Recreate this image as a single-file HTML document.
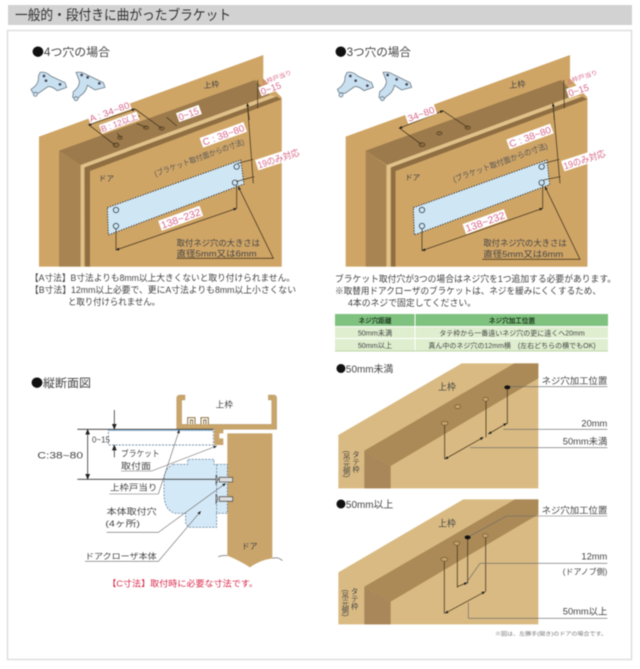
<!DOCTYPE html>
<html lang="ja"><head><meta charset="utf-8"><style>
html,body{margin:0;padding:0;background:#fff;width:640px;height:669px;overflow:hidden}
svg{display:block;filter:blur(.45px)}
text{font-family:"Liberation Sans","Noto Sans CJK JP",sans-serif;fill:#444}
.bl{font-family:"Noto Sans CJK JP",sans-serif;fill:#111}
.p{fill:#d8688a}
.ln{stroke:#4a3a20;stroke-width:2.4;fill:none}
.hb{fill:#8d6c3f;stroke:#4a3a20;stroke-width:2}
.hb2{fill:#c5a36c;stroke:#6b5530;stroke-width:2}
.hp{fill:#cfe6f5;stroke:#3c4a55;stroke-width:2.6}
.br{fill:#c8e0f0;stroke:#6a7a86;stroke-width:2.4}
.g{stroke:#666;stroke-width:1.8;fill:none}
</style></head><body>
<svg width="640" height="669" viewBox="0 0 640 669" xmlns="http://www.w3.org/2000/svg">
<defs>
<marker id="a" viewBox="0 0 10 10" refX="9" refY="5" markerWidth="11" markerHeight="11" markerUnits="userSpaceOnUse" orient="auto-start-reverse"><path d="M0 1L10 5L0 9z" fill="#222"/></marker>
<marker id="b" viewBox="0 0 10 10" refX="9" refY="5" markerWidth="18" markerHeight="18" markerUnits="userSpaceOnUse" orient="auto-start-reverse"><path d="M0 1L10 5L0 9z" fill="#222"/></marker>
</defs>
<rect x="8" y="5" width="624" height="20" fill="#d2d2d2"/>
<text x="15" y="20" font-size="14" textLength="216" lengthAdjust="spacingAndGlyphs" style="fill:#333">一般的・段付きに曲がったブラケット</text>
<rect x="7.5" y="30.5" width="624" height="629" fill="#fff" stroke="#dcdcdc" stroke-width="1.4"/>

<!-- 4 holes -->
<text x="32" y="56" font-size="11.5" textLength="78" lengthAdjust="spacingAndGlyphs"><tspan class="bl">●</tspan>4つ穴の場合</text>
<g transform="translate(20,40) scale(.33333)">
<polygon points="57,290 730,45 730,115 785,172 785,680 57,680" fill="#cfa566"/>
<polygon points="730,115 785,172 785,100 730,100" fill="#fff"/>
<polygon points="117,332 705,120 750,165 182,375" fill="#9c7a4c"/>
<polygon points="117,332 182,375 182,680 117,680" fill="#a88452"/>
<polygon points="182,375 750,165 768,170 192,385 192,680 182,680" fill="#e0c18a"/>
<polygon points="194,382 770,170 785,178 210,393 210,680 195,680" fill="#8f6f42"/>
<polygon points="210,395 785,178 785,680 210,680" fill="#cfa566"/>
<polygon points="262,503 662,360 672,432 265,585" fill="#cfe6f5" stroke="#222" stroke-width="2.6" stroke-dasharray="4 4"/>
<circle class="hp" cx="288" cy="510" r="8"/><circle class="hp" cx="288" cy="558" r="8"/><circle class="hp" cx="650" cy="380" r="8"/><circle class="hp" cx="645" cy="428" r="8"/>
<ellipse class="hb" cx="288" cy="315" rx="9" ry="6"/><ellipse class="hb" cx="300" cy="293" rx="7" ry="5"/><ellipse class="hb" cx="378" cy="263" rx="8" ry="5"/><ellipse class="hb" cx="425" cy="265" rx="8" ry="5"/>
<path class="ln" d="M207 255L285 315M345 207L425 265M292 280L302 292M350 250L378 262M440 232L470 258"/>
<path class="ln" d="M205 255L345 207" marker-start="url(#a)" marker-end="url(#a)"/>
<path class="ln" d="M240 270L360 228"/>
<path class="ln" d="M713 120L713 205M682 190L700 430M652 370L700 358M648 425L703 410M288 566L288 630M650 436L650 505"/>
<path class="ln" d="M682 190L688 240" marker-start="url(#a)"/>
<path class="ln" d="M288 630L650 505" marker-start="url(#a)" marker-end="url(#a)"/>
<path class="ln" d="M470 655L760 655L655 440" marker-end="url(#a)"/>
<path class="br" d="M60 97Q78 94 92 108L135 128L140 142L112 152Q95 138 84 140L55 160L38 158L33 148Q58 132 55 110Z"/>
<path class="br" d="M168 97Q185 94 200 104L250 128L255 142L225 150L202 136Q200 155 180 168L172 178L158 172L160 155Q180 140 178 122Z"/>
<circle cx="46" cy="163" r="6" class="br"/><circle cx="168" cy="176" r="6" class="br"/>
<circle cx="72" cy="108" r="4" fill="#445"/><circle cx="78" cy="122" r="4" fill="#445"/><circle cx="120" cy="133" r="4" fill="#445"/><circle cx="185" cy="105" r="4" fill="#445"/><circle cx="203" cy="112" r="4" fill="#445"/><circle cx="238" cy="130" r="4" fill="#445"/>
<text x="550" y="143" font-size="24" transform="rotate(-5 570 135)">上枠</text>
<text x="236" y="423" font-size="23">ドア</text>
<text x="405" y="410" font-size="23" textLength="285" lengthAdjust="spacingAndGlyphs" transform="rotate(-20 405 405)" style="fill:#555">(ブラケット取付面からの寸法)</text>
<text x="470" y="618" font-size="25" textLength="250" lengthAdjust="spacingAndGlyphs">取付ネジ穴の大きさは</text>
<text x="470" y="649" font-size="25" textLength="240" lengthAdjust="spacingAndGlyphs">直径5mm又は6mm</text>
<text class="p" x="724" y="136" font-size="18" textLength="98" lengthAdjust="spacingAndGlyphs" transform="rotate(-20 724 136)">上枠戸当り</text>
<g transform="translate(752,145) rotate(-20)"><rect x="-34" y="-15" width="68" height="28" fill="#fff"/><text class="p" x="-31" y="10" font-size="28">0~15</text></g>
<g transform="translate(268,215) rotate(-20)"><rect x="-66" y="-15" width="132" height="30" fill="#fff"/><text class="p" x="-63" y="10" font-size="27" textLength="126" lengthAdjust="spacingAndGlyphs">A : 34~80</text></g>
<g transform="translate(298,248) rotate(-20)"><rect x="-60" y="-14" width="120" height="27" fill="#fff"/><text class="p" x="-58" y="9" font-size="25" textLength="116" lengthAdjust="spacingAndGlyphs">B : 12以上</text></g>
<g transform="translate(507,221) rotate(-20)"><rect x="-36" y="-15" width="72" height="29" fill="#fff"/><text class="p" x="-33" y="10" font-size="28">0~15</text></g>
<g transform="translate(610,285) rotate(-20)"><rect x="-70" y="-16" width="140" height="31" fill="#fff"/><text class="p" x="-66" y="10" font-size="28" textLength="132" lengthAdjust="spacingAndGlyphs">C : 38~80</text></g>
<g transform="translate(775,355) rotate(-18)"><rect x="-68" y="-17" width="136" height="33" fill="#fff"/><text class="p" x="-65" y="11" font-size="28" textLength="130" lengthAdjust="spacingAndGlyphs">19のみ対応</text></g>
<g transform="translate(482,535) rotate(-20)"><rect x="-66" y="-16" width="132" height="32" fill="#fff"/><text class="p" x="-62" y="11" font-size="30" textLength="124" lengthAdjust="spacingAndGlyphs">138~232</text></g>
</g>

<!-- 3 holes -->
<text x="335" y="56" font-size="11.5" textLength="76" lengthAdjust="spacingAndGlyphs"><tspan class="bl">●</tspan>3つ穴の場合</text>
<g transform="translate(325,40) scale(.33333)">
<polygon points="62,290 735,45 735,115 787,172 787,680 62,680" fill="#cfa566"/>
<polygon points="735,115 790,172 790,100 735,100" fill="#fff"/>
<polygon points="122,332 708,120 752,165 186,375" fill="#9c7a4c"/>
<polygon points="122,332 183,375 183,680 122,680" fill="#a88452"/>
<polygon points="186,375 752,165 770,170 196,385 196,680 186,680" fill="#e0c18a"/>
<polygon points="198,382 772,170 787,178 212,393 212,680 198,680" fill="#8f6f42"/>
<polygon points="212,395 787,178 787,680 212,680" fill="#cfa566"/>
<polygon points="265,503 666,360 674,434 268,585" fill="#cfe6f5" stroke="#222" stroke-width="2.6" stroke-dasharray="4 4"/>
<circle class="hp" cx="291" cy="510" r="8"/><circle class="hp" cx="291" cy="558" r="8"/><circle class="hp" cx="650" cy="380" r="8"/><circle class="hp" cx="650" cy="428" r="8"/>
<ellipse class="hb" cx="291" cy="314" rx="9" ry="6"/><ellipse class="hb" cx="343" cy="280" rx="8" ry="5"/><ellipse class="hb" cx="428" cy="263" rx="8" ry="5"/>
<path class="ln" d="M224 265L288 312M353 212L428 262"/>
<path class="ln" d="M222 265L355 212" marker-start="url(#a)" marker-end="url(#a)"/>
<path class="ln" d="M716 120L718 205M684 190L705 430M655 370L703 358M655 420L706 410M291 566L291 632M653 436L653 505"/>
<path class="ln" d="M684 190L688 240" marker-start="url(#a)"/>
<path class="ln" d="M291 632L653 505" marker-start="url(#a)" marker-end="url(#a)"/>
<path class="ln" d="M472 658L765 658L660 440" marker-end="url(#a)"/>
<path class="br" d="M66 97Q84 94 98 108L140 128L145 142L117 152Q100 138 89 140L60 160L42 158L37 148Q62 132 60 110Z"/>
<path class="br" d="M174 97Q191 94 206 104L255 128L260 142L230 150L208 136Q206 155 186 168L176 178L162 172L164 155Q186 140 184 122Z"/>
<circle cx="48" cy="165" r="6" class="br"/><circle cx="172" cy="176" r="6" class="br"/>
<circle cx="76" cy="108" r="4" fill="#445"/><circle cx="92" cy="122" r="4" fill="#445"/><circle cx="127" cy="137" r="4" fill="#445"/><circle cx="188" cy="105" r="4" fill="#445"/><circle cx="215" cy="118" r="4" fill="#445"/><circle cx="245" cy="133" r="4" fill="#445"/>
<text x="552" y="143" font-size="25" transform="rotate(-5 570 135)">上枠</text>
<text x="240" y="420" font-size="23">ドア</text>
<text x="387" y="427" font-size="24" textLength="300" lengthAdjust="spacingAndGlyphs" transform="rotate(-20 387 425)" style="fill:#555">(ブラケット取付面からの寸法)</text>
<text x="475" y="618" font-size="25" textLength="250" lengthAdjust="spacingAndGlyphs">取付ネジ穴の大きさは</text>
<text x="475" y="651" font-size="25" textLength="240" lengthAdjust="spacingAndGlyphs">直径5mm又は6mm</text>
<text class="p" x="724" y="133" font-size="18" textLength="100" lengthAdjust="spacingAndGlyphs" transform="rotate(-18 724 133)">上枠戸当り</text>
<g transform="translate(762,150) rotate(-18)"><rect x="-36" y="-15" width="72" height="28" fill="#fff"/><text class="p" x="-33" y="10" font-size="28">0~15</text></g>
<g transform="translate(288,222) rotate(-20)"><rect x="-46" y="-16" width="92" height="31" fill="#fff"/><text class="p" x="-42" y="10" font-size="28" textLength="84" lengthAdjust="spacingAndGlyphs">34~80</text></g>
<g transform="translate(615,290) rotate(-20)"><rect x="-70" y="-16" width="140" height="31" fill="#fff"/><text class="p" x="-66" y="10" font-size="28" textLength="132" lengthAdjust="spacingAndGlyphs">C : 38~80</text></g>
<g transform="translate(778,358) rotate(-18)"><rect x="-68" y="-17" width="136" height="33" fill="#fff"/><text class="p" x="-65" y="11" font-size="28" textLength="130" lengthAdjust="spacingAndGlyphs">19のみ対応</text></g>
<g transform="translate(480,545) rotate(-20)"><rect x="-66" y="-16" width="132" height="32" fill="#fff"/><text class="p" x="-62" y="11" font-size="30" textLength="124" lengthAdjust="spacingAndGlyphs">138~232</text></g>
</g>

<!-- left notes -->
<text x="30" y="281" font-size="9.3" textLength="265" lengthAdjust="spacingAndGlyphs">【A寸法】B寸法よりも8mm以上大きくないと取り付けられません。</text>
<text x="30" y="293" font-size="9.3" textLength="266" lengthAdjust="spacingAndGlyphs">【B寸法】12mm以上必要で、更にA寸法よりも8mm以上小さくない</text>
<text x="68" y="305" font-size="9.3" textLength="92" lengthAdjust="spacingAndGlyphs">と取り付けられません。</text>
<!-- right notes -->
<text x="335" y="282" font-size="9.3" textLength="281" lengthAdjust="spacingAndGlyphs">ブラケット取付穴が3つの場合はネジ穴を1つ追加する必要があります。</text>
<text x="335" y="294" font-size="9.3" textLength="266" lengthAdjust="spacingAndGlyphs">※取替用ドアクローザのブラケットは、ネジを緩みにくくするため、</text>
<text x="348" y="306" font-size="9.3" textLength="128" lengthAdjust="spacingAndGlyphs">4本のネジで固定してください。</text>
<!-- table -->
<rect x="335" y="314" width="273" height="37" fill="#dfeecf"/>
<rect x="335" y="314" width="273" height="12.5" fill="#7fc17f"/>
<path d="M335 338.5H608M335 326.5H608M415 314V351" stroke="#fff" stroke-width="1"/>
<path d="M335 351H608" stroke="#bcd5a6" stroke-width="1"/>
<g font-size="6.6" text-anchor="middle">
<text x="375" y="323" style="fill:#1f3a1f;font-weight:700">ネジ穴距離</text>
<text x="512" y="323" style="fill:#1f3a1f;font-weight:700">ネジ穴加工位置</text>
<text x="375" y="335.5" font-size="7.2">50mm未満</text>
<text x="512" y="335.5" font-size="7">タテ枠から一番遠いネジ穴の更に遠くへ20mm</text>
<text x="375" y="348" font-size="7.2">50mm以上</text>
<text x="512" y="348" font-size="7">真ん中のネジ穴の12mm横　(左右どちらの横でもOK)</text>
</g>

<!-- section -->
<text x="31" y="387" font-size="11.5" textLength="60" lengthAdjust="spacingAndGlyphs"><tspan class="bl">●</tspan>縦断面図</text>
<g transform="translate(20,370) scale(.33333)">
<path d="M470 178V85Q470 75 480 75H495V90H485V163H755V90H745V75H762Q770 75 770 85V178Z" fill="#c9a56b" stroke="#a88a55" stroke-width="1"/>
<path d="M503 163V143H525V163M511 163V150H518V163M543 163V143H565V163M551 163V150H558V163" fill="#fff" stroke="#8a6f40" stroke-width="3"/>
<path d="M582 178H610V190H598V205H610V225H582Z" fill="#c9a56b"/>
<path d="M622 190H757V565Q720 570 690 592Q655 570 622 557Z" fill="#c9a56b"/>
<path d="M595 560Q610 555 622 557M757 565Q775 560 787 572" fill="none" stroke="#555" stroke-width="2"/>
<path d="M460 283H503V268H582V283H622V430H590V472H505L497 460V430H465Q432 420 432 370V330Q432 295 460 283Z" fill="#d4e9f7" stroke="#4d6e8c" stroke-width="2" stroke-dasharray="6 4"/>
<path d="M590 283V430" stroke="#4d6e8c" stroke-width="2" stroke-dasharray="6 4"/>
<rect x="265" y="178" width="315" height="47" fill="#fff" stroke="#4d6e8c" stroke-width="2" stroke-dasharray="6 4"/>
<path d="M265 181H580" stroke="#7fb0d8" stroke-width="3"/>
<path d="M172 178H580M172 328H622" stroke="#333" stroke-width="2.4"/>
<path d="M203 178V328" stroke="#222" stroke-width="2.2" marker-start="url(#b)" marker-end="url(#b)"/>
<path d="M283 120V178" stroke="#222" stroke-width="2.2" marker-end="url(#b)"/>
<path d="M283 262V225" stroke="#222" stroke-width="2.2" marker-end="url(#b)"/>
<path d="M588 315Q598 328 588 342V315M598 322H638V336H598Z" fill="#ddd" stroke="#555" stroke-width="2.4"/>
<path d="M588 372Q598 385 588 400V372M598 380H638V394H598Z" fill="#ddd" stroke="#555" stroke-width="2.4"/>
<path class="g" d="M303 303H395L590 228" marker-end="url(#a)"/>
<path class="g" d="M268 372H415L478 180" marker-end="url(#a)"/>
<path class="g" d="M260 487H415L617 340" marker-end="url(#a)"/>
<path class="g" d="M195 574H415L542 424" marker-end="url(#a)"/>
<g font-size="26">
<text x="587" y="112">上枠</text>
<text x="216" y="217" font-size="24">0~15</text>
<text x="52" y="265" font-size="28" textLength="137" lengthAdjust="spacingAndGlyphs">C:38~80</text>
<text x="303" y="260" textLength="116" lengthAdjust="spacingAndGlyphs">ブラケット</text>
<text x="303" y="297" textLength="90" lengthAdjust="spacingAndGlyphs">取付面</text>
<text x="270" y="362" textLength="142" lengthAdjust="spacingAndGlyphs">上枠戸当り</text>
<text x="260" y="433" textLength="150" lengthAdjust="spacingAndGlyphs">本体取付穴</text>
<text x="256" y="470" textLength="104" lengthAdjust="spacingAndGlyphs">(4ヶ所)</text>
<text x="195" y="567" font-size="24" textLength="215" lengthAdjust="spacingAndGlyphs">ドアクローザ本体</text>
<text x="665" y="537" font-size="24">ドア</text>
</g>
<text x="262" y="650" font-size="25" textLength="452" lengthAdjust="spacingAndGlyphs" style="fill:#d8284a">【C寸法】取付時に必要な寸法です。</text>
</g>

<!-- under 50 -->
<g transform="translate(330,360) scale(.33333)">
<polygon points="25,225 395,10 625,10 625,385 25,385" fill="#d9ba82"/>
<polygon points="103,272 553,10 625,10 625,55 182,318" fill="#ab8a57"/>
<polygon points="103,272 182,318 182,385 103,385" fill="#a9875a"/>
<ellipse class="hb2" cx="383" cy="140" rx="9" ry="6"/><ellipse class="hb2" cx="467" cy="118" rx="8" ry="6"/><ellipse class="hb2" cx="344" cy="190" rx="10" ry="6"/>
<ellipse cx="532" cy="82" rx="9" ry="6" fill="#111"/>
<path class="ln" d="M344 196V297M468 124V232M532 86V192"/>
<path class="ln" d="M345 297L460 232" marker-start="url(#a)" marker-end="url(#a)"/>
<path class="ln" d="M475 222L530 190" marker-start="url(#a)" marker-end="url(#a)"/>
<path class="g" d="M540 80H832M520 208H832M420 263H832"/>
<text x="18" y="38" font-size="30" textLength="172" lengthAdjust="spacingAndGlyphs"><tspan class="bl">●</tspan>50mm未満</text>
<text x="324" y="90" font-size="27">上枠</text>
<text x="635" y="72" font-size="27" textLength="197" lengthAdjust="spacingAndGlyphs">ネジ穴加工位置</text>
<text x="832" y="199" font-size="28" text-anchor="end">20mm</text>
<text x="832" y="254" font-size="28" text-anchor="end">50mm未満</text>
<text x="78" y="272" font-size="22" style="writing-mode:vertical-rl">タテ枠</text>
<text x="50" y="272" font-size="22" style="writing-mode:vertical-rl">(吊元側)</text>
</g>

<!-- over 50 -->
<g transform="translate(330,495) scale(.33333)">
<polygon points="25,232 400,13 625,13 625,388 25,388" fill="#d9ba82"/>
<polygon points="103,275 555,13 625,13 625,58 182,320" fill="#ab8a57"/>
<polygon points="103,275 182,320 182,388 103,388" fill="#a9875a"/>
<ellipse class="hb2" cx="380" cy="145" rx="9" ry="6"/><ellipse class="hb2" cx="466" cy="122" rx="8" ry="6"/><ellipse class="hb2" cx="343" cy="193" rx="10" ry="6"/>
<ellipse cx="413" cy="127" rx="9" ry="6" fill="#111"/>
<path class="ln" d="M343 199V355M382 151V278M413 133V265M467 128V290"/>
<path class="ln" d="M345 355L465 290" marker-start="url(#a)" marker-end="url(#a)"/>
<path class="ln" d="M382 275L412 263" marker-end="url(#a)"/>
<path class="g" d="M832 63H530L418 124M832 205H450L408 265M832 370H415V322"/>
<text x="18" y="39" font-size="30" textLength="172" lengthAdjust="spacingAndGlyphs"><tspan class="bl">●</tspan>50mm以上</text>
<text x="324" y="95" font-size="27">上枠</text>
<text x="635" y="56" font-size="27" textLength="197" lengthAdjust="spacingAndGlyphs">ネジ穴加工位置</text>
<text x="832" y="194" font-size="28" text-anchor="end">12mm</text>
<text x="832" y="238" font-size="24" text-anchor="end">(ドアノブ側)</text>
<text x="832" y="359" font-size="28" text-anchor="end">50mm以上</text>
<text x="74" y="278" font-size="22" style="writing-mode:vertical-rl">タテ枠</text>
<text x="46" y="284" font-size="22" style="writing-mode:vertical-rl">(吊元側)</text>
<text x="495" y="421" font-size="16" textLength="336" lengthAdjust="spacingAndGlyphs" style="fill:#777">※図は、左勝手(開き)のドアの場合です。</text>
</g>
</svg>
</body></html>
